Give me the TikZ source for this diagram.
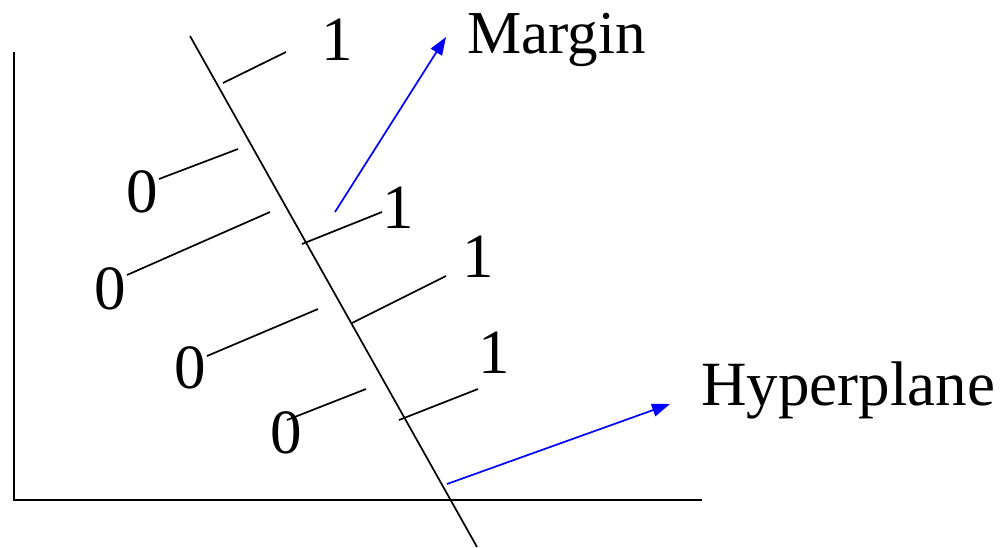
\documentclass[tikz,border=0pt]{standalone}
\usepackage{fontspec}
\setmainfont{Liberation Serif}
\usetikzlibrary{arrows.meta}
\tikzset{
  axisline/.style={line width=2pt, black},
  hline/.style={line width=1.7pt, black},
  seg/.style={line width=1.7pt, black},
  bluearrow/.style={line width=1.7pt, blue, -{Triangle[length=18pt,width=13pt]}},
  digit/.style={anchor=base, inner sep=0pt, font=\fontsize{63}{63}\selectfont},
  lbl/.style={anchor=base west, inner sep=0pt, font=\fontsize{63}{63}\selectfont},
}
\begin{document}
\begin{tikzpicture}[x=1pt,y=-1pt]
\useasboundingbox (0,0) rectangle (1005,547);
% axes
\coordinate (ytop) at (14,52);
\coordinate (orig) at (14,500);
\coordinate (xend) at (702,500);
\draw[axisline] (ytop) -- (orig) -- (xend);
% hyperplane
\coordinate (htop) at (190,36);
\coordinate (hbot) at (477,547);
\draw[hline] (htop) -- (hbot);
% margin segments
\draw[seg] (223,83) -- (286,52);
\draw[seg] (238,149) -- (159,179);
\draw[seg] (270,212) -- (127,275);
\draw[seg] (302,244) -- (382,212);
\draw[seg] (352,323) -- (446,276);
\draw[seg] (318,309) -- (207,356);
\draw[seg] (399,420) -- (478,389);
\draw[seg] (366,389) -- (287,420);
% digits
\node[digit] (d1) at (337,60) {1};
\node[digit] (d2) at (142,212) {0};
\node[digit] (d3) at (110,309) {0};
\node[digit] (d4) at (398,228) {1};
\node[digit] (d5) at (478,277) {1};
\node[digit] (d6) at (190,388) {0};
\node[digit] (d7) at (494,373) {1};
\node[digit] (d8) at (286,453) {0};
% labels
\node[lbl, font=\fontsize{61}{61}\selectfont] (margin) at (467,53) {Margin};
\node[lbl] (hyper) at (701,405) {Hyperplane};
% arrows
\coordinate (a1s) at (335,212);
\coordinate (a1e) at (446,37);
\coordinate (a2s) at (447,484);
\coordinate (a2e) at (670,404);
\draw[bluearrow] (a1s) -- (a1e);
\draw[bluearrow] (a2s) -- (a2e);
\end{tikzpicture}
\end{document}
